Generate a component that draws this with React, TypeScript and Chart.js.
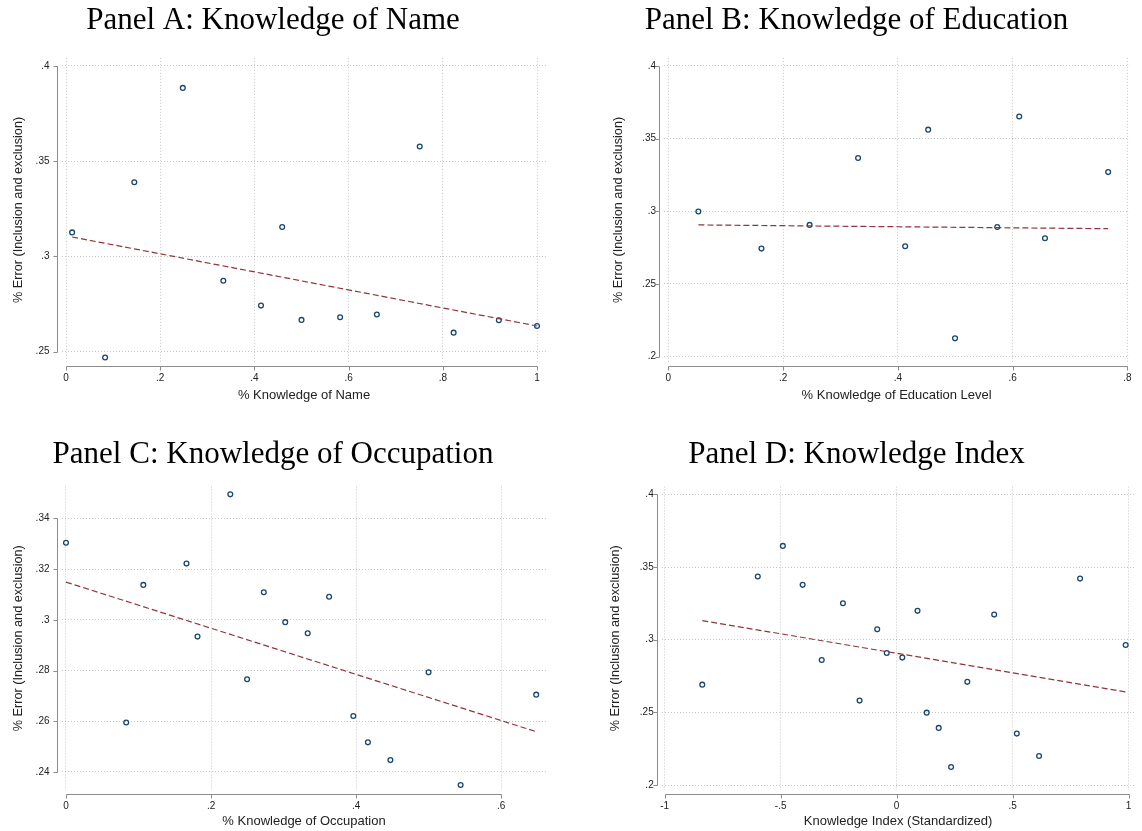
import React, { useEffect, useRef } from "react";
import { Chart, registerables } from "chart.js";

Chart.register(...registerables);

// ---------- Panel A: Knowledge of Name ----------
const titleA = "Panel A: Knowledge of Name";
const xTitleA = "% Knowledge of Name";
const xA = [0.013, 0.083, 0.145, 0.248, 0.334, 0.414, 0.459, 0.5, 0.582, 0.66, 0.751, 0.823, 0.919, 1.0];
const yA = [0.3126, 0.247, 0.3389, 0.3884, 0.2872, 0.2742, 0.3154, 0.2667, 0.2681, 0.2695, 0.3577, 0.26, 0.2665, 0.2635];
const fitXA = [0.013, 1.0];
const fitYA = [0.3102, 0.2635];
const xTicksA = [0, 0.2, 0.4, 0.6, 0.8, 1];
const xTickLabelsA = ["0", ".2", ".4", ".6", ".8", "1"];
const yTicksA = [0.25, 0.3, 0.35, 0.4];
const yTickLabelsA = [".25", ".3", ".35", ".4"];

// ---------- Panel B: Knowledge of Education ----------
const titleB = "Panel B: Knowledge of Education";
const xTitleB = "% Knowledge of Education Level";
const xB = [0.0523, 0.1623, 0.2462, 0.3307, 0.4128, 0.4529, 0.4997, 0.5733, 0.6116, 0.6565, 0.7666];
const yB = [0.2998, 0.2743, 0.2906, 0.3366, 0.2759, 0.3561, 0.2126, 0.2892, 0.3651, 0.2814, 0.3269];
const fitXB = [0.0523, 0.7666];
const fitYB = [0.2906, 0.288];
const xTicksB = [0, 0.2, 0.4, 0.6, 0.8];
const xTickLabelsB = ["0", ".2", ".4", ".6", ".8"];
const yTicksB = [0.2, 0.25, 0.3, 0.35, 0.4];
const yTickLabelsB = [".2", ".25", ".3", ".35", ".4"];

// ---------- Panel C: Knowledge of Occupation ----------
const titleC = "Panel C: Knowledge of Occupation";
const xTitleC = "% Knowledge of Occupation";
const xC = [0.0, 0.083, 0.1066, 0.1661, 0.1813, 0.2265, 0.2496, 0.2727, 0.3022, 0.3332, 0.3627, 0.3961, 0.4162, 0.4472, 0.4998, 0.544, 0.6482];
const yC = [0.3304, 0.2595, 0.3138, 0.3222, 0.2934, 0.3495, 0.2766, 0.3109, 0.2991, 0.2947, 0.3091, 0.2621, 0.2517, 0.2447, 0.2793, 0.2349, 0.2705];
const fitXC = [0.0, 0.6482];
const fitYC = [0.3149, 0.2559];
const xTicksC = [0, 0.2, 0.4, 0.6];
const xTickLabelsC = ["0", ".2", ".4", ".6"];
const yTicksC = [0.24, 0.26, 0.28, 0.3, 0.32, 0.34];
const yTickLabelsC = [".24", ".26", ".28", ".3", ".32", ".34"];

// ---------- Panel D: Knowledge Index ----------
const titleD = "Panel D: Knowledge Index";
const xTitleD = "Knowledge Index (Standardized)";
const xD = [-0.8378, -0.5986, -0.4905, -0.4052, -0.3229, -0.2315, -0.1599, -0.0838, -0.0427, 0.0244, 0.0899, 0.1295, 0.1813, 0.2346, 0.3046, 0.4204, 0.5179, 0.6138, 0.7906, 0.9871];
const yD = [0.2691, 0.3435, 0.3646, 0.3378, 0.2861, 0.3251, 0.2581, 0.3072, 0.2909, 0.2877, 0.3199, 0.2498, 0.2393, 0.2124, 0.271, 0.3173, 0.2354, 0.22, 0.3421, 0.2964];
const fitXD = [-0.8378, 0.9871];
const fitYD = [0.3132, 0.2641];
const xTicksD = [-1, -0.5, 0, 0.5, 1];
const xTickLabelsD = ["-1", "-.5", "0", ".5", "1"];
const yTicksD = [0.2, 0.25, 0.3, 0.35, 0.4];
const yTickLabelsD = [".2", ".25", ".3", ".35", ".4"];

const yTitle = "% Error (Inclusion and exclusion)";

const SANS = "'Liberation Sans', Arial, Helvetica, sans-serif";
const SERIF = "'Liberation Serif', 'Times New Roman', Times, serif";
const NAVY = "#1a476f";
const MAROON = "#90353b";
const AXIS = "#8c8c8c";
const GRID = "rgba(0,0,0,0.22)";

type Geom = {
  left: number; top: number; width: number; height: number;
  areaL: number; padR: number; titleTop: number; titleBottom: number;
  xAxisH: number; xTitlePadB: number; yTitlePadT: number; yTickPad: number;
  xMin: number; xMax: number; yMin: number; yMax: number;
};

type Panel = {
  title: string; xTitle: string;
  xs: number[]; ys: number[]; fx: number[]; fy: number[];
  xTicks: number[]; xLabels: string[]; yTicks: number[]; yLabels: string[];
  g: Geom;
};

const panels: Panel[] = [
  {
    title: titleA, xTitle: xTitleA, xs: xA, ys: yA, fx: fitXA, fy: fitYA,
    xTicks: xTicksA, xLabels: xTickLabelsA, yTicks: yTicksA, yLabels: yTickLabelsA,
    g: { left: 0, top: 0, width: 571, height: 415, areaL: 62, padR: 25, titleTop: 2, titleBottom: 18.6,
      xAxisH: 53, xTitlePadB: 11.5, yTitlePadT: 10.7, yTickPad: 12.5,
      xMin: -0.0085, xMax: 1.0191, yMin: 0.2446, yMax: 0.4042 },
  },
  {
    title: titleB, xTitle: xTitleB, xs: xB, ys: yB, fx: fitXB, fy: fitYB,
    xTicks: xTicksB, xLabels: xTickLabelsB, yTicks: yTicksB, yLabels: yTickLabelsB,
    g: { left: 571, top: 0, width: 571, height: 415, areaL: 93, padR: 0, titleTop: 2, titleBottom: 18.6,
      xAxisH: 53, xTitlePadB: 11.5, yTitlePadT: 39.4, yTickPad: 8,
      xMin: -0.0076, xMax: 0.8034, yMin: 0.19635, yMax: 0.4055 },
  },
  {
    title: titleC, xTitle: xTitleC, xs: xC, ys: yC, fx: fitXC, fy: fitYC,
    xTicks: xTicksC, xLabels: xTickLabelsC, yTicks: yTicksC, yLabels: yTickLabelsC,
    g: { left: 0, top: 415, width: 571, height: 416, areaL: 62, padR: 25, titleTop: 21, titleBottom: 13.3,
      xAxisH: 41, xTitlePadB: 1.5, yTitlePadT: 10.7, yTickPad: 12.5,
      xMin: -0.0055, xMax: 0.6617, yMin: 0.2329, yMax: 0.3526 },
  },
  {
    title: titleD, xTitle: xTitleD, xs: xD, ys: yD, fx: fitXD, fy: fitYD,
    xTicks: xTicksD, xLabels: xTickLabelsD, yTicks: yTicksD, yLabels: yTickLabelsD,
    g: { left: 571, top: 415, width: 571, height: 416, areaL: 90.7, padR: 0, titleTop: 21, titleBottom: 13.3,
      xAxisH: 41, xTitlePadB: 1.5, yTitlePadT: 36.4, yTickPad: 8,
      xMin: -1.0127, xMax: 1.025, yMin: 0.19656, yMax: 0.4055 },
  },
];

const stataAxes = {
  id: "stataAxes",
  afterDraw(chart: any, _args: any, opts: any) {
    const { ctx, chartArea } = chart;
    const xs = chart.scales.x;
    const ys = chart.scales.y;
    const xt: number[] = opts.xTicks;
    const yt: number[] = opts.yTicks;
    ctx.save();
    ctx.strokeStyle = AXIS;
    ctx.lineWidth = 1;
    const ax = Math.round(chartArea.left - 4) - 0.5;
    const ay = Math.round(chartArea.bottom + 4) + 0.5;
    ctx.beginPath();
    const yTop = Math.round(ys.getPixelForValue(yt[yt.length - 1])) + 0.5;
    const yBot = Math.round(ys.getPixelForValue(yt[0])) + 0.5;
    ctx.moveTo(ax, yTop);
    ctx.lineTo(ax, yBot);
    yt.forEach((v) => {
      const p = Math.round(ys.getPixelForValue(v)) + 0.5;
      ctx.moveTo(ax, p);
      ctx.lineTo(ax - 4, p);
    });
    const xL = Math.round(xs.getPixelForValue(xt[0])) + 0.5;
    const xR = Math.round(xs.getPixelForValue(xt[xt.length - 1])) + 0.5;
    ctx.moveTo(xL, ay);
    ctx.lineTo(xR, ay);
    xt.forEach((v) => {
      const p = Math.round(xs.getPixelForValue(v)) + 0.5;
      ctx.moveTo(p, ay);
      ctx.lineTo(p, ay + 4);
    });
    ctx.stroke();
    ctx.restore();
  },
};

function PanelChart({ p }: { p: Panel }) {
  const ref = useRef<HTMLCanvasElement | null>(null);
  useEffect(() => {
    if (!ref.current) return;
    const g = p.g;
    const points = p.xs.map((x, i) => ({ x, y: p.ys[i] }));
    const fit = p.fx.map((x, i) => ({ x, y: p.fy[i] }));
    const chart = new Chart(ref.current, {
      type: "scatter",
      data: {
        datasets: [
          {
            data: fit,
            showLine: true,
            pointRadius: 0,
            borderColor: MAROON,
            borderWidth: 1.2,
            borderDash: [6, 3],
            fill: false,
          } as any,
          {
            data: points,
            pointStyle: "circle",
            pointRadius: 2.4,
            borderWidth: 1.3,
            borderColor: NAVY,
            backgroundColor: "rgba(255,255,255,0)",
          } as any,
        ],
      },
      options: {
        animation: false,
        responsive: false,
        devicePixelRatio: 1,
        events: [],
        layout: { padding: { left: 0, right: g.padR, top: 0, bottom: 0 } },
        plugins: {
          legend: { display: false },
          tooltip: { enabled: false },
          title: {
            display: true,
            text: p.title,
            color: "#000",
            font: { family: SERIF, size: 31, weight: "normal", lineHeight: 1.2 },
            padding: { top: g.titleTop, bottom: g.titleBottom },
          },
          stataAxes: { xTicks: p.xTicks, yTicks: p.yTicks },
        } as any,
        scales: {
          x: {
            type: "linear",
            min: g.xMin,
            max: g.xMax,
            afterBuildTicks: (s: any) => {
              s.ticks = p.xTicks.map((v) => ({ value: v }));
            },
            afterFit: (s: any) => {
              s.height = g.xAxisH;
            },
            grid: { color: GRID, lineWidth: 1, drawTicks: false },
            border: { display: false, dash: [1, 2] },
            ticks: {
              autoSkip: false,
              maxRotation: 0,
              padding: 10.5,
              color: "#222",
              font: { family: SANS, size: 10 },
              callback: (_v: any, i: number) => p.xLabels[i],
            },
            title: {
              display: true,
              text: p.xTitle,
              color: "#222",
              font: { family: SANS, size: 13 },
              padding: { top: 0, bottom: g.xTitlePadB },
            },
          },
          y: {
            type: "linear",
            min: g.yMin,
            max: g.yMax,
            afterBuildTicks: (s: any) => {
              s.ticks = p.yTicks.map((v) => ({ value: v }));
            },
            afterFit: (s: any) => {
              s.width = g.areaL;
            },
            grid: { color: GRID, lineWidth: 1, drawTicks: false },
            border: { display: false, dash: [1, 2] },
            ticks: {
              autoSkip: false,
              padding: g.yTickPad,
              color: "#222",
              font: { family: SANS, size: 10 },
              callback: (_v: any, i: number) => p.yLabels[i],
            },
            title: {
              display: true,
              text: yTitle,
              color: "#222",
              font: { family: SANS, size: 12.7 },
              padding: { top: g.yTitlePadT, bottom: 0 },
            },
          },
        },
      } as any,
      plugins: [stataAxes as any],
    });
    return () => chart.destroy();
  }, [p]);
  const g = p.g;
  return (
    <canvas
      ref={ref}
      width={g.width}
      height={g.height}
      style={{ position: "absolute", left: g.left, top: g.top, width: g.width, height: g.height }}
    />
  );
}

export default function App() {
  return (
    <div
      style={{
        position: "absolute",
        left: 0,
        top: 0,
        width: 1142,
        height: 831,
        background: "#fff",
        overflow: "hidden",
      }}
    >
      {panels.map((p, i) => (
        <PanelChart key={i} p={p} />
      ))}
    </div>
  );
}
